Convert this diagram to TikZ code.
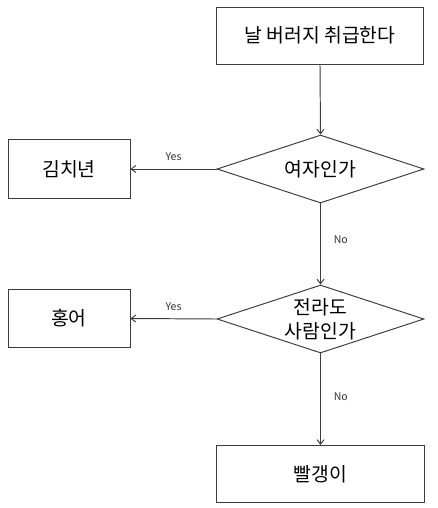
\documentclass[tikz,border=0pt]{standalone}
\usepackage{fontspec}
\setmainfont{Noto Sans CJK KR}
\usetikzlibrary{positioning, arrows.meta, shapes.geometric}
\definecolor{linea}{RGB}{60,60,60}

\begin{document}
\begin{tikzpicture}[
  x=0.02cm, y=-0.02cm,
  every node/.style={font=\fontsize{11}{13.8}\selectfont},
  caja/.style={
    rectangle, draw=linea, line width=0.55pt,
    minimum width=4.16cm, minimum height=1.14cm,
    align=center
  },
  cajachica/.style={
    caja, minimum width=2.44cm, minimum height=1.17cm
  },
  decision/.style={
    diamond, aspect=3, inner sep=-3pt,
    draw=linea, line width=0.55pt,
    minimum width=4.14cm, minimum height=1.36cm,
    align=center
  },
  flecha/.style={->, line width=0.55pt, color=linea,
    >={Straight Barb[length=2.6pt, width=4pt]}},
  etiq/.style={font=\fontsize{6}{7}\selectfont, text=black!80}
]
  \useasboundingbox (0,0) rectangle (438,508);

  % --- Inicio ---
  \node[caja] (inicio) at (320, 35.5) {날 버러지 취급한다};

  % --- Preguntas ---
  \node[decision] (q1) at (320.5, 169) {여자인가};
  \node[decision] (q2) at (320.5, 319) {전라도\\사람인가};

  % --- Resultados ---
  \node[cajachica] (kimchi) at (69, 169)   {김치년};
  \node[cajachica] (hongeo) at (69, 318.5) {홍어};
  \node[caja] (ppal) at (320.5, 474) {빨갱이};

  % --- Flechas ---
  \draw[flecha] (inicio.south) -- (q1.north);

  \draw[flecha] (q1.west) -- node[etiq, above=1pt]{Yes} (kimchi.east);
  \draw[flecha] (q1.south) -- node[etiq, right=4pt, pos=0.45]{No} (q2.north);

  \draw[flecha] (q2.west) -- node[etiq, above=1pt]{Yes} (hongeo.east);
  \draw[flecha] (q2.south) -- node[etiq, right=4pt, pos=0.47]{No} (ppal.north);
\end{tikzpicture}
\end{document}
